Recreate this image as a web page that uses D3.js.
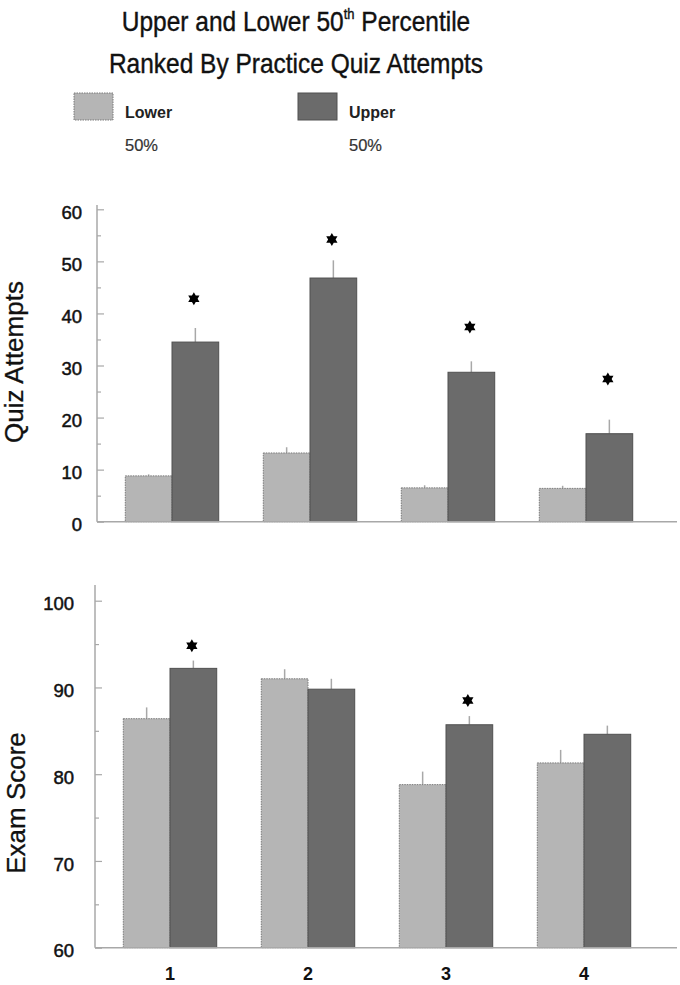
<!DOCTYPE html>
<html>
<head>
<meta charset="utf-8">
<script src="https://cdn.jsdelivr.net/npm/d3@7"></script>
<style>
  html, body { margin: 0; padding: 0; background: #fff; }
  svg { display: block; font-family: "Liberation Sans", Arial, Helvetica, sans-serif; }
</style>
</head>
<body>
<svg id="chart" width="680" height="985"></svg>
<script>
// ---------------- data ----------------
const categories = ["1", "2", "3", "4"];
const series = ["Lower", "Upper"];

const quizLower    = [8.8, 13.2, 6.5, 6.4];
const quizUpper    = [34.5, 46.8, 28.7, 16.9];
const quizLowerErr = [0.3, 1.1, 0.5, 0.5];
const quizUpperErr = [2.7, 3.4, 2.1, 2.7];
const quizStars    = [42.8, 54.2, 37.4, 27.4];
const quizTicks    = [0, 10, 20, 30, 40, 50, 60];
const quizMinor    = [5, 15, 25, 35, 45, 55];

const examLower    = [86.4, 91.0, 78.8, 81.3];
const examUpper    = [92.2, 89.8, 85.7, 84.6];
const examLowerErr = [1.3, 1.1, 1.5, 1.5];
const examUpperErr = [0.9, 1.2, 1.0, 1.0];
const examStars    = [94.8, null, 88.5, null];
const examTicks    = [60, 70, 80, 90, 100];
const examMinor    = [65, 75, 85, 95];

const titleLine1 = ["Upper and Lower 50", "th", " Percentile"];
const titleLine2 = "Ranked By Practice Quiz Attempts";
const legendLabels = [["Lower", "50%"], ["Upper", "50%"]];

// ---------------- style ----------------
const lowerFill = "#b5b5b5", lowerStroke = "#7a7a7a";
const upperFill = "#6b6b6b", upperStroke = "#505050";
const axisColor = "#a8a8a8";
const textColor = "#111";

const svg = d3.select("#chart");

// title
const t1 = svg.append("text").attr("transform", "translate(296,31) scale(1,1.13)")
  .attr("text-anchor", "middle").attr("font-size", 24.5).attr("fill", textColor)
  .attr("stroke", textColor).attr("stroke-width", 0.35);
t1.append("tspan").text(titleLine1[0]);
t1.append("tspan").attr("font-size", 13).attr("dy", -11).text(titleLine1[1]);
t1.append("tspan").attr("dy", 11).text(titleLine1[2]);
svg.append("text").attr("transform", "translate(296,73) scale(1,1.13)")
  .attr("text-anchor", "middle").attr("font-size", 24.5).attr("fill", textColor)
  .attr("stroke", textColor).attr("stroke-width", 0.35)
  .text(titleLine2);

// legend
const legendX = [74, 298];
series.forEach((s, i) => {
  svg.append("rect").attr("x", legendX[i]).attr("y", 93).attr("width", 39).attr("height", 27)
    .attr("fill", i === 0 ? lowerFill : upperFill)
    .attr("stroke", i === 0 ? lowerStroke : upperStroke)
    .attr("stroke-width", 1)
    .attr("stroke-dasharray", i === 0 ? "1.5,1" : null);
  svg.append("text").attr("x", legendX[i] + 51).attr("y", 118)
    .attr("font-size", 16).attr("font-weight", "bold").attr("fill", "#222").text(legendLabels[i][0]);
  svg.append("text").attr("x", legendX[i] + 51).attr("y", 151)
    .attr("font-size", 16.5).attr("fill", "#333").attr("stroke", "#333").attr("stroke-width", 0.2)
    .text(legendLabels[i][1]);
});

function starPath(R) {
  const r = R / Math.sqrt(3);
  const pts = [];
  for (let k = 0; k < 12; k++) {
    const a = -Math.PI / 2 + k * Math.PI / 6;
    const rr = k % 2 === 0 ? R : r;
    pts.push([rr * Math.cos(a), rr * Math.sin(a)]);
  }
  return "M" + pts.map(p => p[0].toFixed(2) + "," + p[1].toFixed(2)).join("L") + "Z";
}

function panel(cfg) {
  const x = d3.scaleBand().domain(categories).range(cfg.xRange)
    .paddingInner(0.323).paddingOuter(0.1615);
  const xs = d3.scaleBand().domain(series).range([0, x.bandwidth()]);
  const y = d3.scaleLinear().domain(cfg.domain).range([cfg.y0, cfg.y1]);
  const g = svg.append("g");

  const rows = categories.map((c, i) => ({
    c, lo: cfg.lower[i], up: cfg.upper[i], loE: cfg.lowerErr[i], upE: cfg.upperErr[i], star: cfg.stars[i]
  }));

  // error bars (behind bars)
  rows.forEach(d => {
    [["Lower", d.lo, d.loE], ["Upper", d.up, d.upE]].forEach(([s, v, e]) => {
      const cx = x(d.c) + xs(s) + xs.bandwidth() / 2;
      g.append("line").attr("x1", cx).attr("x2", cx)
        .attr("y1", y(v)).attr("y2", y(v + e))
        .attr("stroke", axisColor).attr("stroke-width", 1.5);
    });
  });

  // bars
  rows.forEach(d => {
    g.append("rect").attr("x", x(d.c) + xs("Lower")).attr("width", xs.bandwidth())
      .attr("y", y(d.lo)).attr("height", y(cfg.domain[0]) - y(d.lo))
      .attr("fill", lowerFill).attr("stroke", lowerStroke).attr("stroke-width", 1)
      .attr("stroke-dasharray", "1.5,1");
    g.append("rect").attr("x", x(d.c) + xs("Upper")).attr("width", xs.bandwidth())
      .attr("y", y(d.up)).attr("height", y(cfg.domain[0]) - y(d.up))
      .attr("fill", upperFill).attr("stroke", upperStroke).attr("stroke-width", 1);
    if (d.star != null) {
      g.append("path").attr("d", starPath(6.5))
        .attr("transform", `translate(${x(d.c) + xs("Upper") + xs.bandwidth() / 2 - 1.5},${y(d.star)})`)
        .attr("fill", "#000");
    }
  });

  // y axis line + baseline
  g.append("line").attr("x1", cfg.axisX).attr("x2", cfg.axisX)
    .attr("y1", cfg.axisTop).attr("y2", y(cfg.domain[0]))
    .attr("stroke", axisColor).attr("stroke-width", 1.5);
  g.append("line").attr("x1", cfg.axisX).attr("x2", 677)
    .attr("y1", y(cfg.domain[0])).attr("y2", y(cfg.domain[0]))
    .attr("stroke", axisColor).attr("stroke-width", 1.5);

  // ticks (inward) major + minor
  const major = g.append("g").attr("transform", `translate(${cfg.axisX},0)`)
    .call(d3.axisRight(y).tickValues(cfg.ticks).tickSize(7).tickFormat(""));
  major.select(".domain").remove();
  major.selectAll("line").attr("stroke", axisColor).attr("stroke-width", 1.2);
  const minor = g.append("g").attr("transform", `translate(${cfg.axisX},0)`)
    .call(d3.axisRight(y).tickValues(cfg.minor).tickSize(4).tickFormat(""));
  minor.select(".domain").remove();
  minor.selectAll("line").attr("stroke", axisColor).attr("stroke-width", 1.2);

  // tick labels
  const lab = g.append("g").attr("transform", `translate(${cfg.axisX},0)`)
    .call(d3.axisLeft(y).tickValues(cfg.ticks).tickSize(0).tickPadding(cfg.labelPad).tickFormat(d3.format("d")));
  lab.select(".domain").remove();
  lab.selectAll("text").attr("font-size", 18.5).attr("fill", textColor)
    .attr("stroke", textColor).attr("stroke-width", 0.5)
    .attr("font-family", "'Liberation Sans', Arial, sans-serif").attr("dy", "0.5em");

  // y label
  g.append("text").attr("transform", `translate(${cfg.ylabX},${cfg.ylabY}) rotate(-90)`)
    .attr("text-anchor", "middle").attr("font-size", 26).attr("fill", textColor)
    .attr("stroke", textColor).attr("stroke-width", 0.3)
    .text(cfg.ylabel);

  if (cfg.showX) {
    const xa = g.append("g").attr("transform", `translate(0,${y(cfg.domain[0])})`)
      .call(d3.axisBottom(x).tickSize(0).tickPadding(20));
    xa.select(".domain").remove();
    xa.selectAll("text").attr("font-size", 18).attr("font-weight", "bold").attr("fill", textColor)
      .attr("font-family", "'Liberation Sans', Arial, sans-serif");
  }
}

panel({
  xRange: [103, 655], domain: [0, 60], y0: 521.7, y1: 209.3,
  lower: quizLower, upper: quizUpper, lowerErr: quizLowerErr, upperErr: quizUpperErr, stars: quizStars,
  ticks: quizTicks, minor: quizMinor, axisX: 97, axisTop: 205, labelPad: 15,
  ylabel: "Quiz Attempts", ylabX: 23, ylabY: 362, showX: false
});

panel({
  xRange: [101, 653], domain: [60, 100], y0: 947.7, y1: 600.7,
  lower: examLower, upper: examUpper, lowerErr: examLowerErr, upperErr: examUpperErr, stars: examStars,
  ticks: examTicks, minor: examMinor, axisX: 95, axisTop: 585, labelPad: 21,
  ylabel: "Exam Score", ylabX: 25, ylabY: 803, showX: true
});
</script>
</body>
</html>
